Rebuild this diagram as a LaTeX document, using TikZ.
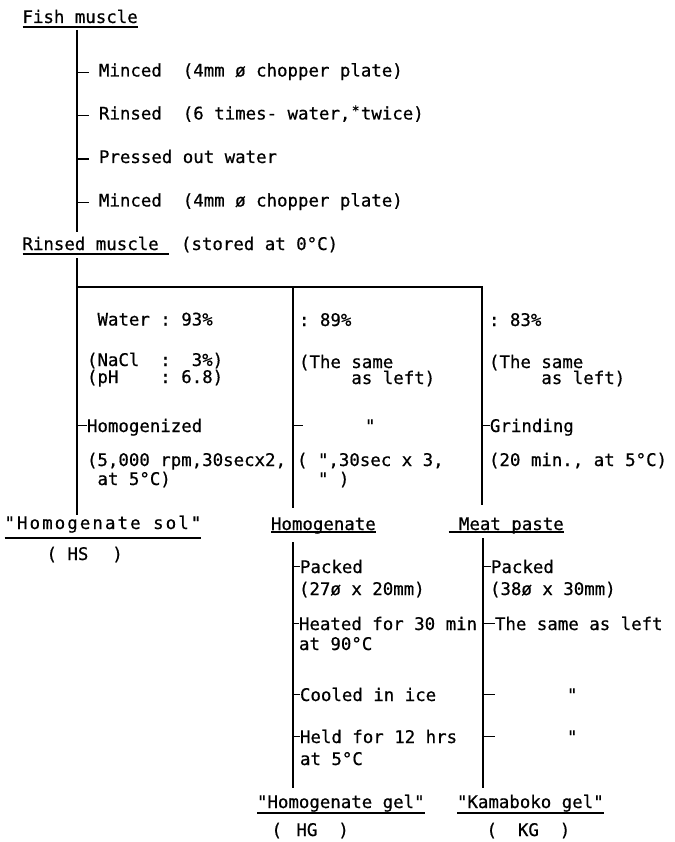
\documentclass[tikz,border=0pt]{standalone}
\usepackage{fontspec}
\setmonofont[FakeBold=0.6]{DejaVu Sans Mono}
\newfontfamily\spacedtt[LetterSpace=12,FakeBold=0.6]{DejaVu Sans Mono}
\usetikzlibrary{calc}

\begin{document}
\begin{tikzpicture}[
        x=1pt, y=-1pt,
        font=\ttfamily\fontsize{17.4}{20}\selectfont,
        txt/.style   ={anchor=base west, inner sep=0pt, outer sep=0pt},
        trunk/.style ={line width=2.6pt, draw=black},
        tick/.style  ={line width=1.7pt, draw=black},
        uline/.style ={line width=1.2pt, draw=black}
    ]
  \useasboundingbox[fill=white] (0,0) rectangle (674,842);

  % ===== FISH MUSCLE -> RINSED MUSCLE =====
  \node[txt] (fish)    at (22.5,23)   {Fish muscle~};
  \node[txt] (mince1)  at (99,76.5)   {Minced~~(4mm ø chopper plate)};
  \node[txt] (rinse)   at (99,119.5)  {Rinsed~~(6 times- water,\makebox[0.602em]{\raisebox{.25em}{\fontsize{13}{13}\selectfont*}}twice)};
  \node[txt] (press)   at (99,163)    {Pressed out water};
  \node[txt] (mince2)  at (99,206.5)  {Minced~~(4mm ø chopper plate)};
  \node[txt] (rinsed)  at (22.5,250)  {Rinsed muscle~~};
  \node[txt] (stored)  at (181,250)   {(stored at 0°C)};

  \draw[uline] ([yshift=-4pt]fish.base west)   -- ([yshift=-4pt]fish.base east);
  \draw[uline] ([yshift=-4pt]rinsed.base west) -- ([yshift=-4pt]rinsed.base east);

  \coordinate (fishdown)   at (77,30);
  \coordinate (rinsedup)   at (77,232);
  \draw[trunk] (fishdown) -- (rinsedup);
  \foreach \s in {mince1, rinse, press, mince2}
    \draw[tick] ($(\s.base west)+(-22,-4)$) -- ++(12,0);

  % ===== THREE BRANCHES =====
  \coordinate (rinseddown) at (77,258);
  \coordinate (split)      at (77,287);
  \coordinate (midtop)     at (293,287);
  \coordinate (righttop)   at (482,287);
  \coordinate (leftend)    at (77,515);
  \coordinate (midend)     at (293,508);
  \coordinate (rightend)   at (482,505);
  \draw[trunk] (rinseddown) -- (leftend);
  \draw[trunk] (split) -- (righttop) -- (rightend);
  \draw[trunk] (midtop) -- (midend);

  % left branch
  \node[txt] (water1)  at (97.5,325.5) {Water : 93\%};
  \node[txt] (nacl)    at (87,366)     {(NaCl~~:~~3\%)};
  \node[txt] (ph)      at (87,383)     {(pH~~~~: 6.8)};
  \node[txt] (homog)   at (87,432)     {Homogenized};
  \node[txt] (rpm1)    at (87,466)     {(5,000 rpm,30secx2,};
  \node[txt] (rpm2)    at (97.5,485)   {at 5°C)};
  \draw[tick] ($(homog.base west)+(-10,-6.5)$) -- ++(10,0);

  % middle branch
  \node[txt] (water2)  at (299,326)    {: 89\%};
  \node[txt] (same2a)  at (299,368)    {(The same};
  \node[txt] (same2b)  at (299,384)    {~~~~~as left)};
  \node[txt] (ditto1)  at (365,432)    {"};
  \node[txt] (rpm3a)   at (297,466)    {( ",30sec x 3,};
  \node[txt] (rpm3b)   at (297,485)    {~~"~)};
  \draw[tick] ($(midtop)+(0,138.5)$) -- ++(10,0);

  % right branch
  \node[txt] (water3)  at (489,326)    {: 83\%};
  \node[txt] (same3a)  at (489,368)    {(The same};
  \node[txt] (same3b)  at (489,384)    {~~~~~as left)};
  \node[txt] (grind)   at (490,432)    {Grinding};
  \node[txt] (mins)    at (489,466)    {(20 min., at 5°C)};
  \draw[tick] ($(grind.base west)+(-8,-6.5)$) -- ++(8,0);

  % ===== PRODUCTS =====
  \node[txt] (homsol)  at (4.5,529)    {\spacedtt "Homogenate sol"};
  \node[txt] (hs)      at (46.5,560)   {(~HS~~\kern3pt)};
  \node[txt] (homgnt)  at (271,530)    {Homogenate};
  \node[txt] (meat)    at (448.5,530)  {~Meat paste};
  \draw[uline] ([yshift=-9pt]homsol.base west) -- ([yshift=-9pt]homsol.base east);
  \draw[uline] ([yshift=-2pt]homgnt.base west) -- ([yshift=-2pt]homgnt.base east);
  \draw[uline] ([yshift=-2pt]meat.base west)   -- ([yshift=-2pt]meat.base east);

  % ===== GEL PREPARATION =====
  \coordinate (midlow)    at (293,542);
  \coordinate (midbot)    at (293,788);
  \coordinate (rightlow)  at (483,538);
  \coordinate (rightbot)  at (483,788);
  \draw[trunk] (midlow) -- (midbot);
  \draw[trunk] (rightlow) -- (rightbot);

  \node[txt] (pack1)   at (300,573)    {Packed};
  \node[txt] (dim1)    at (299,595)    {(27ø x 20mm)};
  \node[txt] (heat)    at (299,630)    {Heated for 30 min};
  \node[txt] (heat2)   at (299,650)    {at 90°C};
  \node[txt] (cool)    at (300,701)    {Cooled in ice};
  \node[txt] (held)    at (300,743)    {Held for 12 hrs};
  \node[txt] (held2)   at (300,765)    {at 5°C};
  \foreach \s in {pack1, heat, cool, held}
    \draw[tick] ($(\s.base west)+(-7,-6.5)$) -- ++(7,0);

  \node[txt] (pack2)   at (491,573)    {Packed};
  \node[txt] (dim2)    at (490,595)    {(38ø x 30mm)};
  \node[txt] (same4)   at (495,630)    {The same as left};
  \node[txt] (ditto2)  at (567,701)    {"};
  \node[txt] (ditto3)  at (567,743)    {"};
  \draw[tick] ($(pack2.base west)+(-8,-6.5)$) -- ++(8,0);
  \draw[tick] ($(same4.base west)+(-12,-6.5)$) -- ++(12,0);
  \draw[tick] ($(ditto2.base west)+(-84,-6.5)$) -- ++(12,0);
  \draw[tick] ($(ditto3.base west)+(-84,-6.5)$) -- ++(12,0);

  \node[txt] (hgel)    at (257,808)    {"Homogenate gel"};
  \node[txt] (hg)      at (271.5,836)  {(~\kern4pt HG~~)};
  \node[txt] (kgel)    at (457,808)    {"Kamaboko gel"};
  \node[txt] (kg)      at (486.5,836)  {(~~KG~~)};
  \draw[uline] ([yshift=-5pt]hgel.base west) -- ([yshift=-5pt]hgel.base east);
  \draw[uline] ([yshift=-5pt]kgel.base west) -- ([yshift=-5pt]kgel.base east);
\end{tikzpicture}
\end{document}
